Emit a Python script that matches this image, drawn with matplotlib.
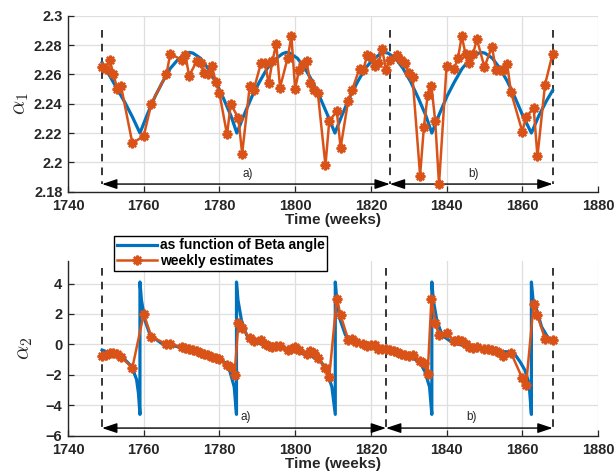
import matplotlib
matplotlib.use("Agg")
import matplotlib.pyplot as plt
import numpy as np

plt.rcParams['font.family'] = ['Liberation Sans', 'DejaVu Sans']
plt.rcParams['mathtext.fontset'] = 'cm'

# alpha_1: model curve (as function of Beta angle)
beta1_weeks = [1749, 1751, 1753, 1755, 1757, 1759,
               1761, 1763, 1765, 1767, 1769, 1771, 1772, 1773, 1775, 1777, 1779, 1781, 1783, 1784.6,
               1786.6, 1788.6, 1790.6, 1792.6, 1794.6, 1796.6, 1797.6, 1798.6, 1800.6, 1802.6, 1804.6, 1806.6, 1808.6, 1810.5,
               1812.5, 1814.5, 1816.5, 1818.5, 1820.5, 1822.5, 1823.5, 1824.5, 1826.5, 1828.5, 1830.5, 1832.5, 1834.5, 1836.1,
               1838.1, 1840.1, 1842.1, 1844.1, 1846.1, 1848.1, 1849.1, 1850.1, 1852.1, 1854.1, 1856.1, 1858.1, 1860.1, 1862.4,
               1864.4, 1866.4, 1868]
beta1_vals = [2.268, 2.259, 2.250, 2.241, 2.231, 2.220,
              2.233, 2.245, 2.255, 2.264, 2.270, 2.274, 2.275, 2.2745, 2.271, 2.264, 2.255, 2.244, 2.232, 2.220,
              2.233, 2.245, 2.255, 2.264, 2.270, 2.274, 2.275, 2.2745, 2.271, 2.264, 2.255, 2.244, 2.232, 2.220,
              2.233, 2.245, 2.255, 2.264, 2.270, 2.274, 2.275, 2.2745, 2.271, 2.264, 2.255, 2.244, 2.232, 2.220,
              2.233, 2.245, 2.255, 2.264, 2.270, 2.274, 2.275, 2.2745, 2.271, 2.264, 2.255, 2.244, 2.232, 2.220,
              2.232, 2.242, 2.249]

# alpha_1: weekly estimates
est1_weeks = [1749, 1750, 1751, 1752, 1753, 1754, 1757, 1760, 1762, 1766, 1767, 1770, 1771, 1772, 1774,
              1775, 1776, 1777, 1778, 1779, 1780, 1782, 1783, 1785, 1786, 1788, 1789, 1791, 1792, 1793,
              1794, 1795, 1796, 1798, 1799, 1800, 1801, 1802, 1803, 1804, 1805, 1806, 1808, 1809, 1811,
              1812, 1814, 1815, 1817, 1818, 1819, 1820, 1821, 1822, 1823, 1824, 1825, 1827, 1828, 1829,
              1830, 1831, 1833, 1834, 1835, 1836, 1837, 1838, 1840, 1842, 1843, 1844, 1845, 1846, 1847,
              1848, 1850, 1852, 1853, 1854, 1855, 1856, 1857, 1860, 1861, 1863, 1864, 1866, 1868]
est1_vals = [2.265, 2.264, 2.270, 2.260, 2.250, 2.252, 2.213, 2.218, 2.240, 2.260, 2.274, 2.270, 2.273, 2.259, 2.269,
             2.268, 2.261, 2.260, 2.266, 2.255, 2.247, 2.219, 2.240, 2.230, 2.206, 2.252, 2.249, 2.268, 2.268, 2.254,
             2.269, 2.281, 2.251, 2.271, 2.286, 2.250, 2.263, 2.267, 2.269, 2.254, 2.249, 2.247, 2.198, 2.228, 2.235,
             2.210, 2.242, 2.249, 2.264, 2.263, 2.273, 2.272, 2.266, 2.268, 2.277, 2.263, 2.270, 2.273, 2.270, 2.268,
             2.261, 2.258, 2.191, 2.224, 2.246, 2.252, 2.228, 2.185, 2.266, 2.264, 2.271, 2.286, 2.274, 2.268, 2.274,
             2.284, 2.265, 2.279, 2.263, 2.263, 2.263, 2.267, 2.248, 2.221, 2.231, 2.237, 2.204, 2.253, 2.274]

# alpha_2: model curve
beta2_weeks = [1749, 1752, 1755, 1756.8, 1758.1, 1758.6, 1759.0,
               1759.0, 1759.4, 1760.3, 1761.7, 1764.7, 1770, 1775, 1779, 1781.5, 1782.8, 1783.9, 1784.5,
               1784.5, 1784.9, 1785.8, 1787.2, 1790.2, 1795.5, 1800.5, 1804.5, 1807, 1808.4, 1809.7, 1810.6,
               1810.6, 1811.0, 1811.9, 1813.3, 1816.3, 1821.5, 1826.5, 1830.5, 1833, 1834.3, 1835.5, 1836.1,
               1836.1, 1836.5, 1837.4, 1838.8, 1841.8, 1847, 1852, 1857.6, 1859.4, 1860.7, 1861.8, 1862.4,
               1862.4, 1862.8, 1863.8, 1865.1, 1866.9, 1868.2]
beta2_vals = [-0.37, -0.65, -1.0, -1.45, -2.3, -3.2, -4.6,
              4.1, 2.9, 1.6, 0.6, 0.07, -0.2, -0.5, -0.8, -1.2, -1.8, -2.8, -4.6,
              4.1, 2.9, 1.6, 0.6, 0.07, -0.2, -0.5, -0.8, -1.2, -1.8, -2.8, -4.6,
              4.1, 2.9, 1.6, 0.6, 0.07, -0.2, -0.5, -0.8, -1.2, -1.8, -2.8, -4.6,
              4.1, 2.9, 1.6, 0.6, 0.07, -0.2, -0.45, -0.5, -1.14, -1.7, -2.6, -4.6,
              4.1, 3.0, 2.25, 1.15, 0.39, 0.28]

# alpha_2: weekly estimates
est2_weeks = [1749, 1750, 1751, 1752, 1753, 1754, 1757, 1760, 1762, 1766, 1767, 1770, 1771, 1772, 1773,
              1774, 1775, 1776, 1777, 1778, 1779, 1780, 1782, 1783, 1784, 1785, 1786, 1788, 1789, 1791,
              1792, 1793, 1794, 1795, 1796, 1798, 1799, 1800, 1801, 1803, 1804, 1805, 1806, 1808, 1809,
              1811, 1812, 1814, 1815, 1816, 1818, 1819, 1820, 1821, 1822, 1823, 1824, 1825, 1826, 1827,
              1828, 1829, 1830, 1831, 1833, 1834, 1835, 1836, 1837, 1838, 1840, 1842, 1843, 1844, 1845,
              1846, 1847, 1848, 1850, 1851, 1852, 1853, 1854, 1855, 1857, 1860, 1861, 1863, 1864, 1866, 1868]
est2_vals = [-0.75, -0.70, -0.58, -0.55, -0.60, -0.85, -1.53, 2.0, 0.50, 0.02, 0.02, -0.16, -0.25, -0.30, -0.38,
             -0.45, -0.55, -0.63, -0.72, -0.80, -0.88, -0.97, -1.36, -1.50, -2.0, 1.42, 1.05, 0.39, 0.22, 0.28,
             0.0, -0.10, -0.16, -0.11, -0.11, -0.37, -0.33, -0.20, -0.37, -0.63, -0.44, -0.59, -0.92, -1.58, -2.12,
             3.01, 1.92, 0.32, 0.35, 0.17, 0.0, -0.11, -0.05, -0.05, -0.30, -0.33, -0.33, -0.38, -0.42, -0.50,
             -0.62, -0.70, -0.77, -0.70, -1.07, -1.20, -1.95, 3.01, 1.42, 0.61, 0.72, 0.24, 0.30, 0.24, 0.0,
             -0.16, -0.27, -0.20, -0.33, -0.30, -0.37, -0.45, -0.55, -0.77, -0.55, -2.23, -2.67, 2.67, 1.9, 0.37, 0.30]

# period boundaries (dashed lines) and labels
bounds1 = [1749, 1825, 1868]
bounds2 = [1749, 1824, 1868]
period_labels = ["a)", "b)"]

blue = "#0072BD"
orange = "#D95319"
axcol = "#262626"


def style_axes(ax, ylim, yticks):
    ax.set_xlim(1740, 1880)
    ax.set_ylim(*ylim)
    ax.set_xticks(np.arange(1740, 1881, 20))
    ax.set_yticks(yticks)
    ax.grid(True, color="#dfdfdf", linewidth=0.9)
    ax.set_axisbelow(True)
    for s in ["top", "right"]:
        ax.spines[s].set_visible(False)
    for s in ["left", "bottom"]:
        ax.spines[s].set_color(axcol)
        ax.spines[s].set_linewidth(1.0)
    ax.tick_params(direction="in", length=4, width=0.9, colors=axcol, labelsize=10.5)
    ax.tick_params(axis="x", pad=5)
    ax.tick_params(axis="y", pad=4)
    for lab in ax.get_xticklabels() + ax.get_yticklabels():
        lab.set_fontweight("bold")
    ax.set_xlabel("Time (weeks)", fontsize=11, fontweight="bold", color=axcol, labelpad=0)


def periods(ax, bounds, ytop, yarr, ytext):
    for b in bounds:
        ax.plot([b, b], [ytop, yarr], color="k", ls=(0, (5, 4)), lw=1.1, zorder=3)
    for i in range(2):
        ax.annotate("", xy=(bounds[i], yarr), xytext=(bounds[i + 1], yarr),
                    arrowprops=dict(arrowstyle="<|-|>,head_length=0.9,head_width=0.3",
                                    color="k", lw=1.0, mutation_scale=10,
                                    shrinkA=0, shrinkB=0), zorder=3)
        ax.text((bounds[i] + bounds[i + 1]) / 2 + 0.5, ytext, period_labels[i],
                fontsize=8.5, color=axcol, ha="center", va="center")


fig = plt.figure(figsize=(6.15, 4.76), dpi=100)

ax1 = fig.add_axes([0.1106, 0.5973, 0.8618, 0.3697])
ax1.plot(beta1_weeks, beta1_vals, color=blue, lw=2.3, zorder=4)
ax1.plot(est1_weeks, est1_vals, color=orange, lw=1.8, marker=(8, 2, 0), ms=7, mew=1.7, zorder=5)
style_axes(ax1, (2.18, 2.3), [2.18, 2.2, 2.22, 2.24, 2.26, 2.28, 2.3])
ax1.set_yticklabels(["2.18", "2.2", "2.22", "2.24", "2.26", "2.28", "2.3"], fontweight="bold")
ax1.set_ylabel(r"$\alpha_1$", fontsize=16, color=axcol, labelpad=2)
periods(ax1, bounds1, 2.29, 2.1852, 2.192)

ax2 = fig.add_axes([0.1106, 0.0847, 0.8618, 0.3676])
l1, = ax2.plot(beta2_weeks, beta2_vals, color=blue, lw=2.3, zorder=4, label="as function of Beta angle")
l2, = ax2.plot(est2_weeks, est2_vals, color=orange, lw=1.8, marker=(8, 2, 0), ms=7, mew=1.7, zorder=5,
               label="weekly estimates")
style_axes(ax2, (-6, 5.5), [-6, -4, -2, 0, 2, 4])
ax2.set_ylabel(r"$\alpha_2$", fontsize=16, color=axcol, labelpad=8)
periods(ax2, bounds2, 5.0, -5.5, -4.8)

leg = fig.legend(handles=[l1, l2], loc="upper left", bbox_to_anchor=(0.185, 0.505),
                 prop={"weight": "bold", "size": 10}, handlelength=2.9, handletextpad=0.2,
                 borderpad=0.2, labelspacing=0.1, fancybox=False, framealpha=1, borderaxespad=0)
leg.get_frame().set_edgecolor("k")
leg.get_frame().set_linewidth(1.0)

fig.savefig("out.png", dpi=100)
